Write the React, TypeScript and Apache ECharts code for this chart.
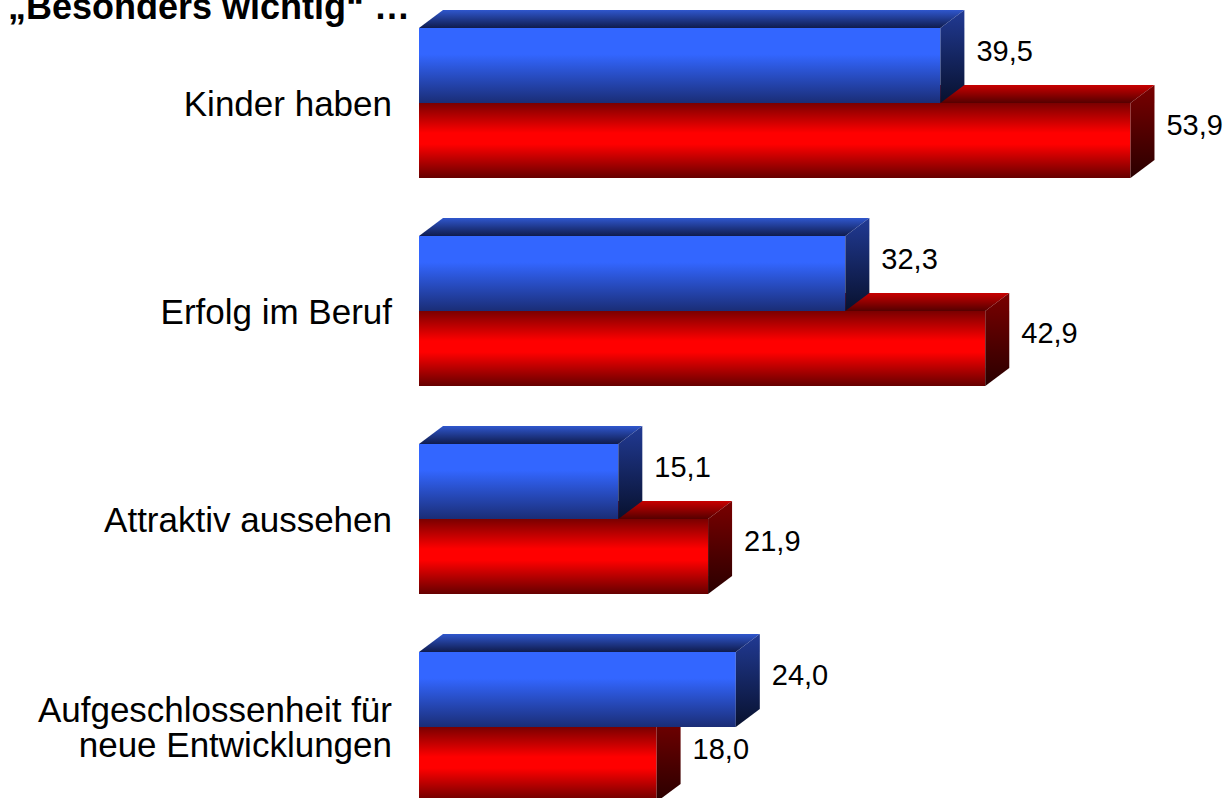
import React, { useEffect, useRef } from "react";
import * as echarts from "echarts";

const titleText = "„Besonders wichtig“ …";
const categories = [
  "Kinder haben",
  "Erfolg im Beruf",
  "Attraktiv aussehen",
  "Aufgeschlossenheit für\nneue Entwicklungen",
];
const blueValues = [39.5, 32.3, 15.1, 24.0];
const redValues = [53.9, 42.9, 21.9, 18.0];

const FONT = '"Liberation Sans", Arial, sans-serif';
const BAR_FRAC = 0.36;
const DX = 24;
const DY = 18;

type Palette = { front: any[]; top: any[]; side: any[] };

const bluePalette: Palette = {
  front: [
    { offset: 0, color: "#3366ff" },
    { offset: 0.35, color: "#3366ff" },
    { offset: 1, color: "#1a2d76" },
  ],
  top: [
    { offset: 0, color: "#2f56cc" },
    { offset: 1, color: "#0f1b4c" },
  ],
  side: [
    { offset: 0, color: "#213a94" },
    { offset: 1, color: "#08112e" },
  ],
};

const redPalette: Palette = {
  front: [
    { offset: 0, color: "#7a0000" },
    { offset: 0.4, color: "#ff0000" },
    { offset: 0.55, color: "#ff0000" },
    { offset: 1, color: "#660000" },
  ],
  top: [
    { offset: 0, color: "#c80000" },
    { offset: 1, color: "#550000" },
  ],
  side: [
    { offset: 0, color: "#7a0000" },
    { offset: 1, color: "#2a0000" },
  ],
};

const fmt = (v: number) => v.toFixed(1).replace(".", ",");

function makeRender(pos: "top" | "bottom", pal: Palette) {
  return (params: any, api: any) => {
    const v = api.value(0);
    const ci = api.value(1);
    const start = api.coord([0, ci]);
    const end = api.coord([v, ci]);
    const band = api.size([0, 1])[1];
    const h = band * BAR_FRAC;
    const c = start[1];
    const y0 = pos === "top" ? c - h : c;
    const x0 = start[0];
    const x1 = end[0];
    const grad = (stops: any[]) => new echarts.graphic.LinearGradient(0, 0, 0, 1, stops);
    return {
      type: "group",
      children: [
        {
          type: "rect",
          shape: { x: x0, y: y0, width: x1 - x0, height: h },
          style: { fill: grad(pal.front) },
        },
        {
          type: "polygon",
          shape: {
            points: [
              [x0, y0],
              [x0 + DX, y0 - DY],
              [x1 + DX, y0 - DY],
              [x1, y0],
            ],
          },
          style: { fill: grad(pal.top) },
        },
        {
          type: "polygon",
          shape: {
            points: [
              [x1, y0],
              [x1 + DX, y0 - DY],
              [x1 + DX, y0 + h - DY],
              [x1, y0 + h],
            ],
          },
          style: { fill: grad(pal.side) },
        },
        {
          type: "text",
          x: x1 + DX + 12,
          y: (y0 - DY + y0 + h) / 2 - 6,
          style: {
            text: fmt(v),
            fill: "#000",
            fontSize: 29,
            fontFamily: FONT,
            align: "left",
            verticalAlign: "middle",
          },
        },
      ],
    };
  };
}

export default function App() {
  const ref = useRef<HTMLDivElement>(null);
  useEffect(() => {
    if (!ref.current) return;
    const chart = echarts.init(ref.current, undefined, { renderer: "svg" });
    chart.setOption({
      animation: false,
      backgroundColor: "#ffffff",
      grid: {
        left: 419,
        top: -1,
        width: 792,
        height: 832,
        containLabel: false,
        outerBoundsMode: "none",
      },
      xAxis: {
        type: "value",
        min: 0,
        max: 60,
        show: false,
        splitLine: { show: false },
      },
      yAxis: {
        type: "category",
        inverse: true,
        data: categories,
        axisLine: { show: false },
        axisTick: { show: false },
        splitLine: { show: false },
        axisLabel: {
          fontSize: 35,
          fontFamily: FONT,
          color: "#000",
          margin: 27,
          lineHeight: 35,
          align: "right",
        },
      },
      graphic: [
        {
          type: "text",
          x: 8,
          y: 6,
          style: {
            text: titleText,
            fill: "#000",
            fontSize: 36,
            fontWeight: "bold",
            fontFamily: FONT,
            align: "left",
            verticalAlign: "middle",
          },
        },
      ],
      series: [
        {
          type: "custom",
          name: "Rot",
          renderItem: makeRender("bottom", redPalette),
          encode: { x: 0, y: 1 },
          data: redValues.map((v, i) => [v, i]),
        },
        {
          type: "custom",
          name: "Blau",
          renderItem: makeRender("top", bluePalette),
          encode: { x: 0, y: 1 },
          data: blueValues.map((v, i) => [v, i]),
        },
      ],
    });
    return () => chart.dispose();
  }, []);
  return (
    <div
      ref={ref}
      style={{ position: "absolute", left: 0, top: 0, width: 1227, height: 798 }}
    />
  );
}
